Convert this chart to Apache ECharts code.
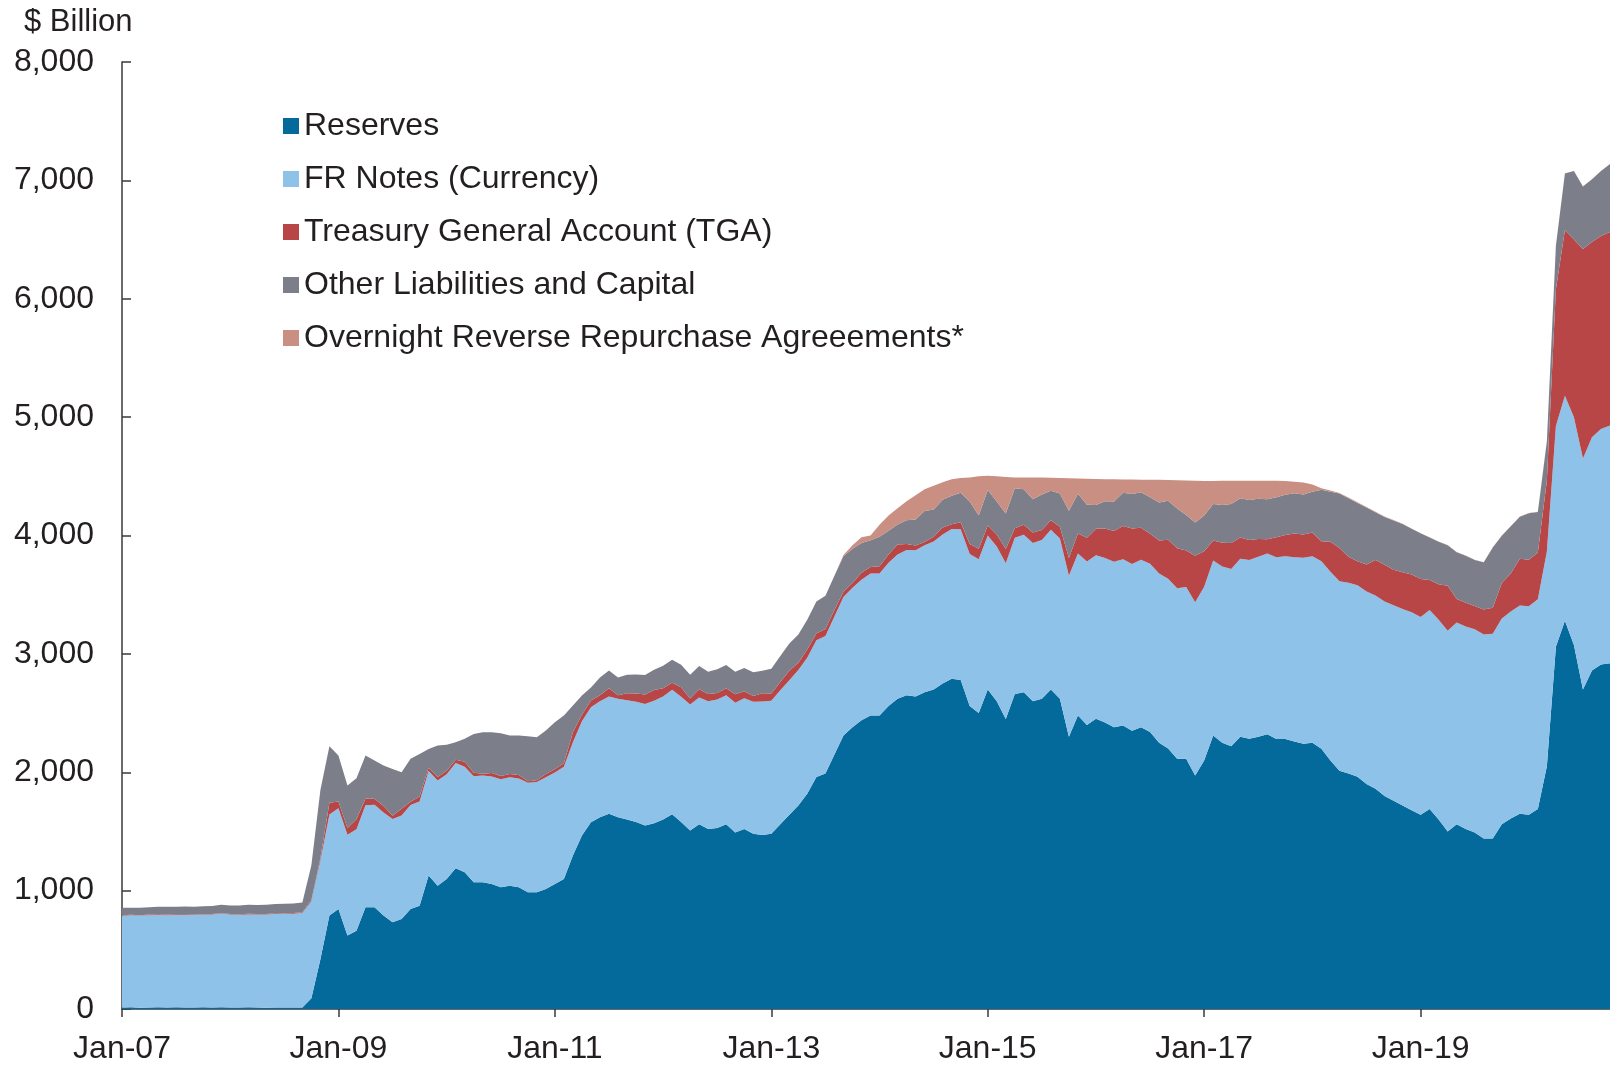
<!DOCTYPE html>
<html>
<head>
<meta charset="utf-8">
<script src="https://cdn.jsdelivr.net/npm/echarts/dist/echarts.min.js"></script>
<style>
  body { margin: 0; background: #fff; }
  #chart { width: 1610px; height: 1065px; }
</style>
</head>
<body>
<div id="chart"></div>
<script>
// monthly, Jan-07 .. Oct-20, $ billion
var startYear = 2007
var monthNames = ['Jan', 'Feb', 'Mar', 'Apr', 'May', 'Jun', 'Jul', 'Aug', 'Sep', 'Oct', 'Nov', 'Dec']

var reserves = [
  12, 14, 11, 13, 15, 12, 14, 13, 12, 15, 13, 14,
  13, 12, 14, 12, 11, 13, 12, 12, 12, 90, 420, 790,
  845, 620, 660, 860, 860, 789, 733, 761, 845, 873, 1127, 1042,
  1099, 1190, 1155, 1071, 1071, 1057, 1028, 1042, 1028, 986, 986, 1014,
  1057, 1099, 1296, 1465, 1578, 1620, 1650, 1620, 1600, 1580, 1551, 1570,
  1600, 1646, 1580, 1508, 1560, 1520, 1530, 1560, 1490, 1520, 1480, 1470,
  1480, 1560, 1640, 1720, 1820, 1960, 1990, 2150, 2310, 2380, 2440, 2480,
  2480, 2560, 2620, 2650, 2640, 2676, 2700, 2750, 2789, 2780, 2560, 2500,
  2700, 2600, 2450, 2660, 2676, 2600, 2620, 2700, 2620, 2300, 2479, 2400,
  2451, 2420, 2380, 2395, 2350, 2380, 2339, 2250, 2200, 2114, 2114, 1973,
  2100, 2310, 2250, 2220, 2300, 2282, 2300, 2320, 2280, 2280, 2260, 2240,
  2250, 2198, 2100, 2012, 1990, 1961, 1900, 1860, 1800, 1760, 1720, 1680,
  1640, 1690, 1600, 1500, 1560, 1520, 1490, 1440, 1440, 1560, 1610, 1650,
  1640, 1690, 2050, 3060, 3280, 3075, 2700, 2860, 2910, 2920
]

var frNotes = [
  776, 777, 778, 779, 780, 781, 781, 782, 782, 783, 785, 792,
  785, 784, 785, 786, 787, 790, 792, 793, 800, 820, 835, 853,
  850, 852, 858, 862, 866, 870, 872, 874, 878, 880, 884, 889,
  885, 888, 892, 896, 902, 908, 912, 916, 920, 925, 932, 943,
  940, 948, 958, 965, 972, 980, 990, 1000, 1008, 1015, 1025, 1035,
  1040, 1050, 1058, 1065, 1072, 1080, 1085, 1090, 1098, 1105, 1115, 1127,
  1125, 1132, 1138, 1144, 1150, 1155, 1160, 1165, 1170, 1178, 1186, 1198,
  1200, 1210, 1220, 1228, 1235, 1242, 1250, 1258, 1265, 1272, 1283, 1299,
  1300, 1308, 1316, 1322, 1330, 1336, 1342, 1348, 1354, 1360, 1368, 1380,
  1382, 1390, 1398, 1404, 1410, 1416, 1422, 1428, 1434, 1440, 1450, 1463,
  1468, 1478, 1488, 1496, 1504, 1512, 1520, 1528, 1536, 1545, 1556, 1571,
  1575, 1585, 1594, 1602, 1610, 1618, 1626, 1634, 1642, 1650, 1660, 1671,
  1672, 1680, 1688, 1696, 1704, 1712, 1718, 1724, 1730, 1738, 1748, 1759,
  1762, 1772, 1815, 1865, 1900, 1925, 1950, 1970, 1990, 2010
]

var tga = [
  5, 5, 4, 6, 5, 5, 5, 5, 5, 5, 5, 5,
  5, 5, 5, 5, 5, 5, 5, 5, 5, 10, 20, 100,
  57, 57, 85, 57, 50, 56, 28, 56, 28, 42, 28, 28,
  28, 28, 42, 28, 14, 28, 28, 28, 28, 14, 14, 28,
  28, 28, 84, 56, 56, 50, 70, 30, 60, 70, 80, 90,
  70, 60, 80, 50, 70, 60, 55, 60, 70, 60, 50, 70,
  60, 70, 80, 60, 70, 57, 60, 56, 45, 40, 60, 56,
  60, 70, 84, 50, 40, 28, 40, 60, 42, 60, 85, 90,
  84, 100, 120, 80, 85, 90, 84, 80, 100, 150, 169, 200,
  225, 250, 260, 281, 300, 270, 253, 280, 330, 338, 310, 393,
  300, 169, 200, 220, 180, 169, 150, 120, 169, 180, 200, 197,
  200, 169, 253, 280, 220, 203, 230, 300, 310, 300, 310, 320,
  320, 254, 300, 380, 200, 200, 197, 211, 220, 300, 320, 395,
  394, 394, 600, 1155, 1400, 1500, 1770, 1650, 1630, 1634
]

var otherLiab = [
  62, 60, 63, 61, 64, 65, 63, 66, 64, 66, 68, 70,
  72, 74, 76, 75, 77, 78, 80, 82, 83, 295, 575, 477,
  389, 359, 347, 362, 324, 342, 395, 309, 362, 360, 158, 267,
  220, 148, 193, 329, 351, 345, 362, 324, 334, 379, 364, 367,
  398, 404, 226, 162, 110, 150, 150, 150, 155, 160, 165, 170,
  190, 195, 190, 200, 195, 190, 200, 195, 190, 195, 200, 190,
  210, 220, 230, 240, 250, 270, 281, 290, 300, 290, 250, 225,
  250, 200, 169, 200, 220, 260, 230, 235, 239, 250, 360, 280,
  300, 280, 300, 337, 300, 280, 300, 250, 280, 400, 337, 280,
  200, 230, 250, 281, 290, 300, 310, 320, 330, 337, 300, 280,
  300, 309, 320, 330, 330, 337, 340, 338, 338, 340, 340, 338,
  345, 434, 423, 460, 495, 493, 480, 403, 405, 417, 407, 386,
  386, 360, 360, 342, 394, 396, 388, 398, 508, 400, 400, 354,
  392, 342, 332, 368, 478, 579, 529, 529, 549, 575
]

var onRrp = [
  0, 0, 0, 0, 0, 0, 0, 0, 0, 0, 0, 0,
  0, 0, 0, 0, 0, 0, 0, 0, 0, 0, 0, 0,
  0, 0, 0, 0, 0, 0, 0, 0, 0, 0, 0, 0,
  0, 0, 0, 0, 0, 0, 0, 0, 0, 0, 0, 0,
  0, 0, 0, 0, 0, 0, 0, 0, 0, 0, 0, 0,
  0, 0, 0, 0, 0, 0, 0, 0, 0, 0, 0, 0,
  0, 0, 0, 0, 0, 0, 0, 0, 10, 30, 50, 42,
  100, 130, 137, 162, 205, 184, 200, 147, 140, 123, 202, 331,
  121, 212, 309, 91, 99, 184, 144, 110, 132, 274, 129, 220,
  220, 186, 187, 113, 123, 106, 147, 192, 174, 237, 290, 353,
  292, 194, 204, 196, 148, 162, 152, 156, 139, 115, 99, 102,
  60, 14, 10, 6, 5, 5, 4, 3, 3, 3, 3, 3,
  2, 2, 2, 2, 2, 2, 2, 2, 2, 2, 2, 2,
  2, 2, 3, 2, 2, 1, 1, 1, 1, 1
]

var seriesNames = ['Reserves', 'FR Notes (Currency)', 'Treasury General Account (TGA)', 'Other Liabilities and Capital', 'Overnight Reverse Repurchase Agreeements*']
var seriesColors = ['#04699b', '#8fc2e8', '#b84646', '#7c7f8a', '#c98f82']
var yTicks = [0, 1000, 2000, 3000, 4000, 5000, 6000, 7000, 8000]

// month labels like Jan-07
var months = []
for (var i = 0; i < reserves.length; i++) {
  var y = startYear + Math.floor(i / 12)
  months.push(monthNames[i % 12] + '-' + String(y).slice(2))
}

var font = "'Liberation Sans', Arial, sans-serif"
var textColor = '#231f20'

function makeSeries (idx, data) {
  return {
    name: seriesNames[idx],
    type: 'line',
    stack: 'total',
    data: data,
    symbol: 'none',
    showSymbol: false,
    lineStyle: { width: 0 },
    itemStyle: { color: seriesColors[idx] },
    areaStyle: { color: seriesColors[idx], opacity: 1 },
    emphasis: { disabled: true }
  }
}

var myChart = echarts.init(document.getElementById('chart'), null, { renderer: 'canvas' })
myChart.setOption({
  animation: false,
  textStyle: { fontFamily: font },
  grid: { left: 122, right: 0, top: 62, bottom: 55, containLabel: false },
  graphic: [
    {
      type: 'text',
      left: 24,
      top: 7,
      style: { text: '$ Billion', font: '31px ' + font, fill: textColor }
    }
  ],
  legend: {
    data: seriesNames,
    orient: 'vertical',
    left: 278,
    top: 105,
    icon: 'rect',
    itemWidth: 16,
    itemHeight: 16,
    itemGap: 21,
    textStyle: { fontSize: 32, color: textColor, fontFamily: font, lineHeight: 32 }
  },
  xAxis: {
    type: 'category',
    data: months,
    boundaryGap: false,
    axisLine: { lineStyle: { color: '#3a3a3a', width: 1.5 } },
    axisTick: {
      show: true,
      length: 8,
      interval: function (index) { return index % 24 === 0 },
      lineStyle: { color: '#3a3a3a', width: 1.5 }
    },
    axisLabel: {
      interval: function (index) { return index % 24 === 0 },
      margin: 24,
      fontSize: 32,
      color: textColor,
      fontFamily: font
    },
    splitLine: { show: false }
  },
  yAxis: {
    type: 'value',
    min: yTicks[0],
    max: yTicks[yTicks.length - 1],
    interval: 1000,
    axisLine: { show: true, lineStyle: { color: '#3a3a3a', width: 1.5 } },
    axisTick: { show: true, inside: true, length: 9, lineStyle: { color: '#3a3a3a', width: 1.5 } },
    axisLabel: {
      margin: 28,
      fontSize: 32,
      color: textColor,
      fontFamily: font,
      formatter: function (value) { return value.toLocaleString('en-US') }
    },
    splitLine: { show: false }
  },
  series: [
    makeSeries(0, reserves),
    makeSeries(1, frNotes),
    makeSeries(2, tga),
    makeSeries(3, otherLiab),
    makeSeries(4, onRrp)
  ]
})
</script>
</body>
</html>
